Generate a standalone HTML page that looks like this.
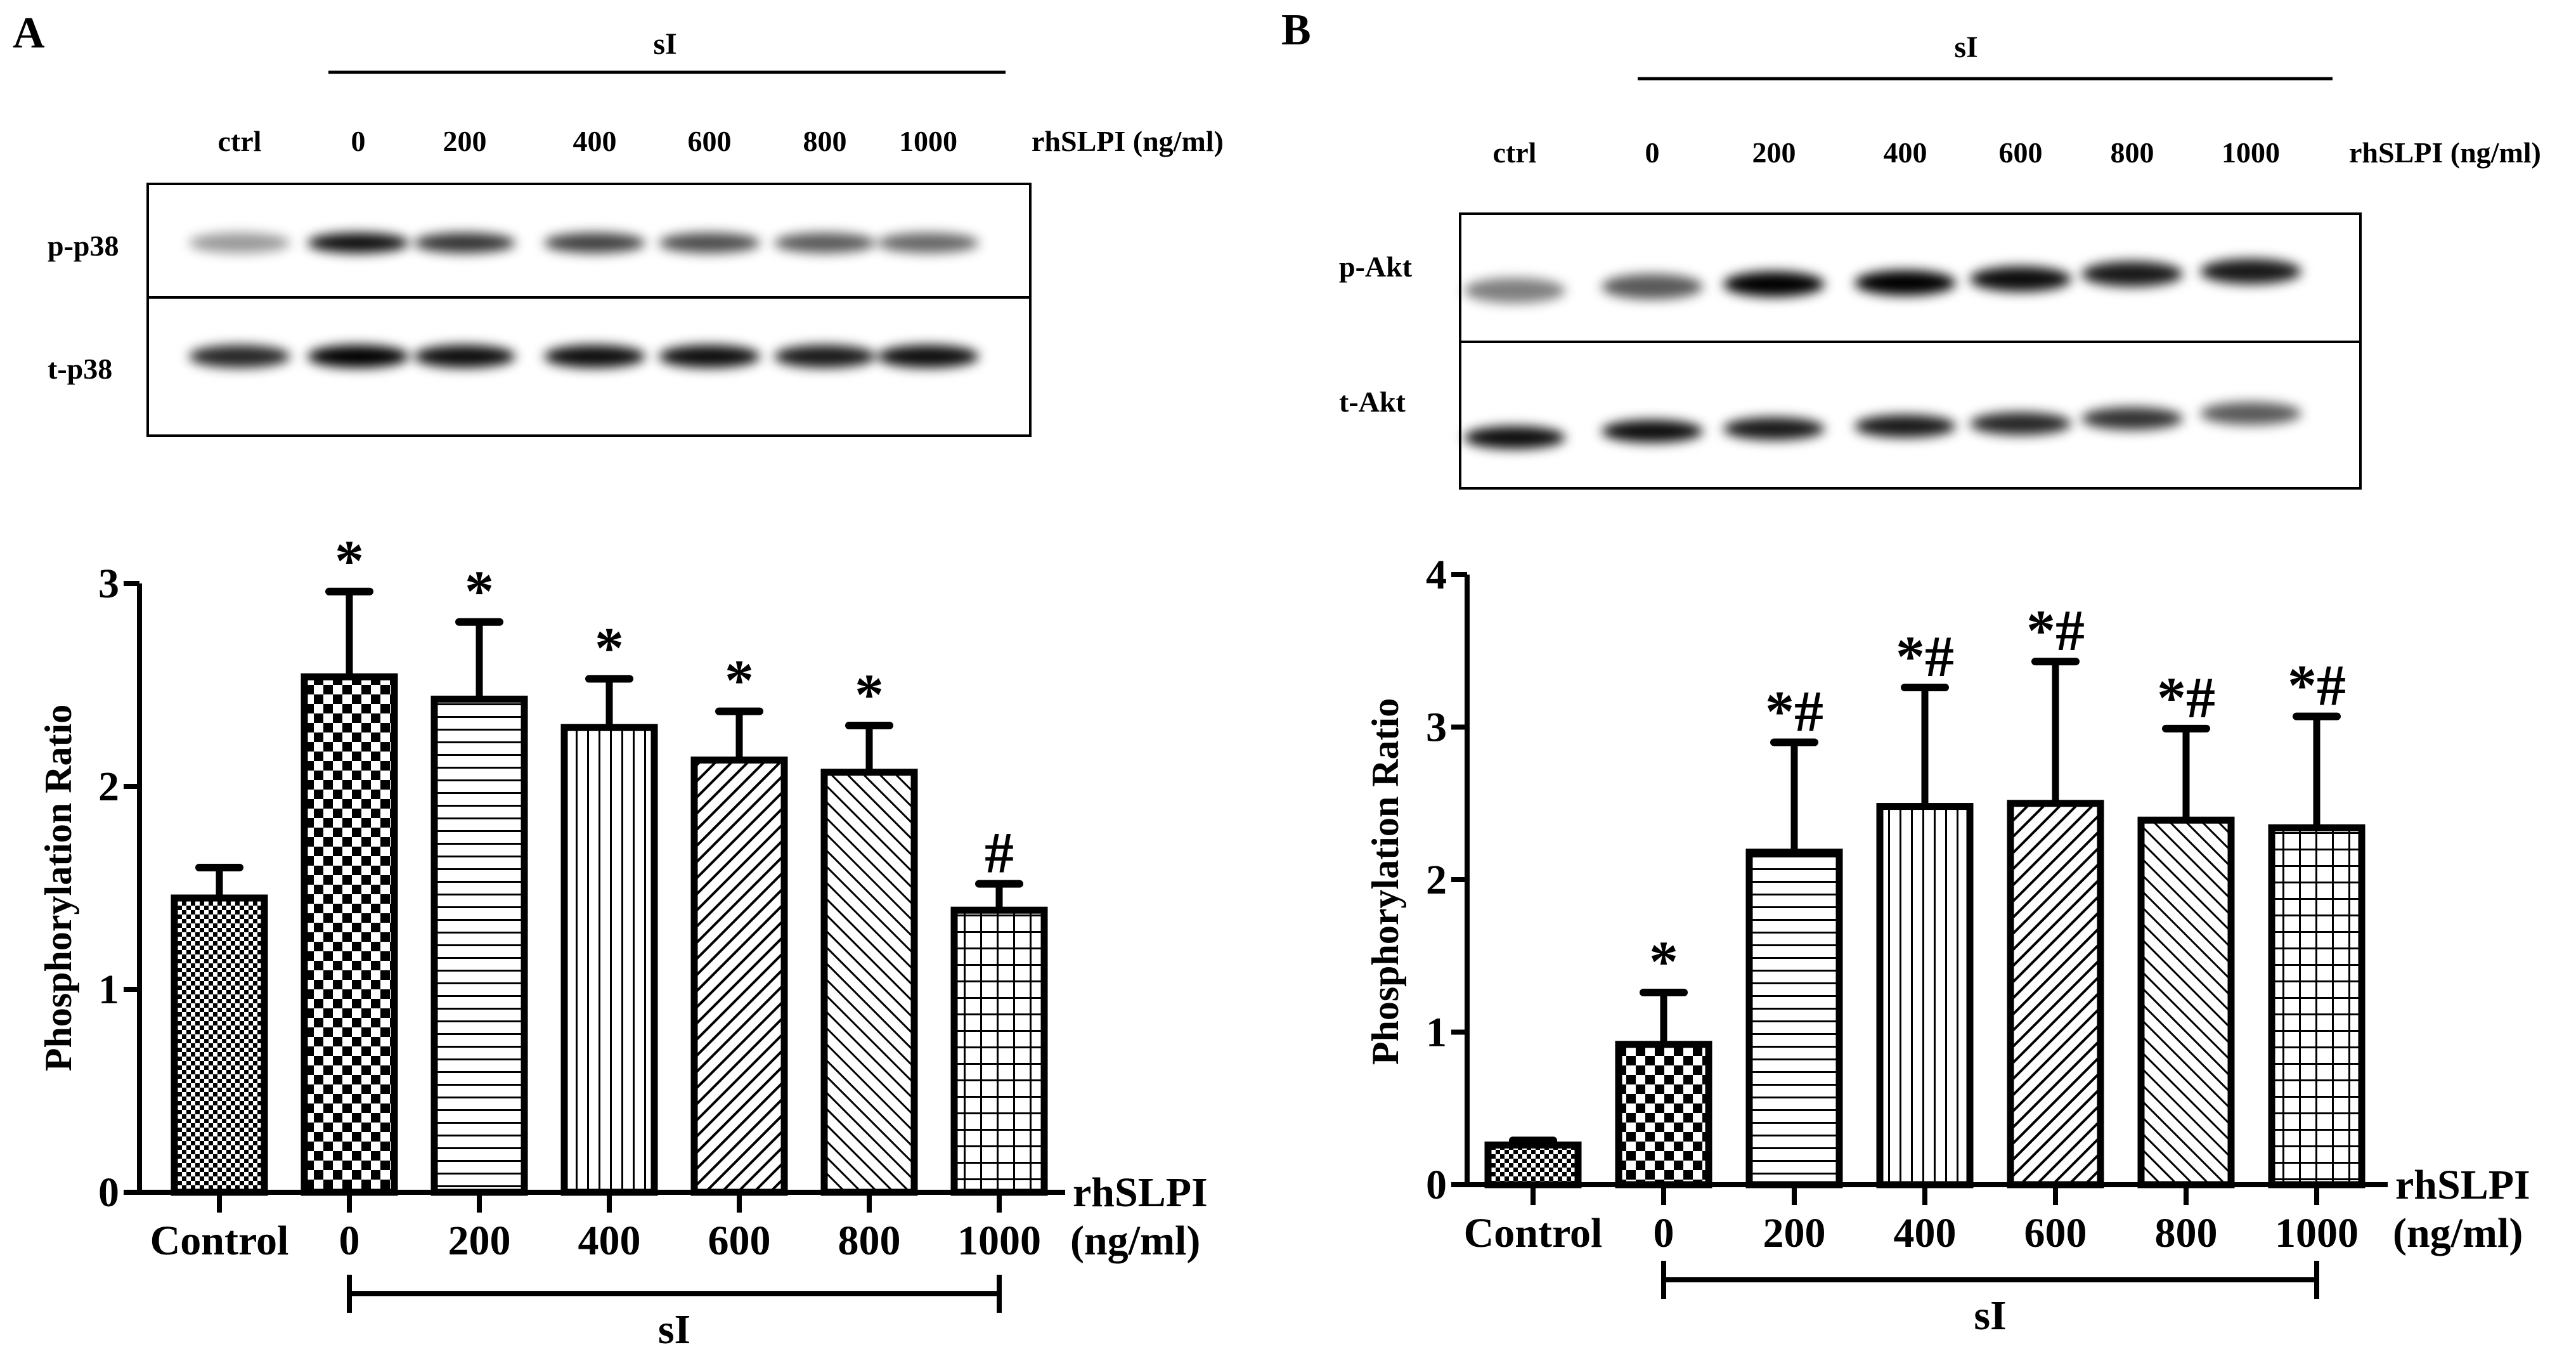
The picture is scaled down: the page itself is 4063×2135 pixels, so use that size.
<!DOCTYPE html>
<html><head><meta charset="utf-8"><style>
html,body{margin:0;padding:0;background:#fff}
svg{display:block}
text{font-family:"Liberation Serif",serif;font-weight:bold;fill:#000}
</style></head><body>
<svg id="fig" width="4063" height="2135" viewBox="0 0 4063 2135" xmlns="http://www.w3.org/2000/svg">
<defs>
<filter id="blur" x="-20%" y="-80%" width="140%" height="260%"><feGaussianBlur stdDeviation="9"/></filter>
<pattern id="p0" width="14" height="14" patternUnits="userSpaceOnUse"><rect width="14" height="14" fill="#fff"/><rect width="7" height="7" fill="#000"/><rect x="7" y="7" width="7" height="7" fill="#000"/></pattern>
<pattern id="p1" width="30" height="30" patternUnits="userSpaceOnUse"><rect width="30" height="30" fill="#fff"/><rect width="15" height="15" fill="#000"/><rect x="15" y="15" width="15" height="15" fill="#000"/></pattern>
<pattern id="p2" width="20" height="20" patternUnits="userSpaceOnUse"><rect width="20" height="20" fill="#fff"/><rect y="9" width="20" height="3" fill="#000"/></pattern>
<pattern id="p3" width="18" height="18" patternUnits="userSpaceOnUse"><rect width="18" height="18" fill="#fff"/><rect x="8" width="3" height="18" fill="#000"/></pattern>
<pattern id="p4" width="18" height="18" patternUnits="userSpaceOnUse" patternTransform="rotate(45)"><rect width="18" height="18" fill="#fff"/><rect x="8" width="4" height="18" fill="#000"/></pattern>
<pattern id="p5" width="18" height="18" patternUnits="userSpaceOnUse" patternTransform="rotate(-45)"><rect width="18" height="18" fill="#fff"/><rect x="8" width="3" height="18" fill="#000"/></pattern>
<pattern id="p6" width="26" height="26" patternUnits="userSpaceOnUse"><rect width="26" height="26" fill="#fff"/><rect x="12" width="3" height="26" fill="#000"/><rect y="12" width="26" height="3" fill="#000"/></pattern>
</defs>

<!-- Panel A blot -->
<text x="20" y="75" font-size="70">A</text>
<line x1="518" y1="114" x2="1586" y2="114" stroke="#000" stroke-width="5"/>
<text x="1049" y="85" font-size="48" text-anchor="middle">sI</text>
<g font-size="46" text-anchor="middle">
<text x="378" y="238">ctrl</text><text x="565" y="238">0</text><text x="733" y="238">200</text><text x="938" y="238">400</text><text x="1119" y="238">600</text><text x="1301" y="238">800</text><text x="1464" y="238">1000</text>
</g>
<text x="1627" y="238" font-size="46">rhSLPI (ng/ml)</text>
<rect x="233" y="290" width="1392" height="397" fill="#fff" stroke="#000" stroke-width="4"/>
<line x1="233" y1="469" x2="1625" y2="469" stroke="#000" stroke-width="4"/>
<text x="75" y="403" font-size="46">p-p38</text>
<text x="75" y="597" font-size="46">t-p38</text>
<g id="bandsA" filter="url(#blur)"></g>

<!-- Panel B blot -->
<text x="2021" y="70" font-size="70">B</text>
<line x1="2583" y1="124" x2="3679" y2="124" stroke="#000" stroke-width="5"/>
<text x="3101" y="90" font-size="48" text-anchor="middle">sI</text>
<g font-size="46" text-anchor="middle">
<text x="2389" y="256">ctrl</text><text x="2606" y="256">0</text><text x="2798" y="256">200</text><text x="3005" y="256">400</text><text x="3187" y="256">600</text><text x="3363" y="256">800</text><text x="3550" y="256">1000</text>
</g>
<text x="3705" y="256" font-size="46">rhSLPI (ng/ml)</text>
<rect x="2303" y="337" width="1420" height="433" fill="#fff" stroke="#000" stroke-width="4"/>
<line x1="2303" y1="539" x2="3723" y2="539" stroke="#000" stroke-width="4"/>
<text x="2112" y="436" font-size="46">p-Akt</text>
<text x="2112" y="649" font-size="46">t-Akt</text>
<g id="bandsB" filter="url(#blur)"></g>

<g id="chartA"></g>
<g id="chartB"></g>
</svg>
<script>
const categories = ["Control","0","200","400","600","800","1000"];
const valuesA = [1.45,2.54,2.43,2.29,2.13,2.07,1.39];
const errorsA = [1.60,2.96,2.81,2.53,2.37,2.30,1.52];
const marksA = ["","*","*","*","*","*","#"];
const ticksA = [0,1,2,3];
const valuesB = [0.26,0.92,2.18,2.48,2.50,2.39,2.34];
const errorsB = [0.29,1.26,2.90,3.26,3.43,2.99,3.07];
const marksB = ["","*","*#","*#","*#","*#","*#"];
const ticksB = [0,1,2,3,4];
const bandA1 = [0.4,0.95,0.8,0.75,0.7,0.65,0.6];
const bandA2 = [0.85,1,0.95,0.95,0.95,0.9,0.95];
const bandB1 = [0.5,0.65,1,1,0.95,0.9,0.9];
const bandB2 = [0.95,0.95,0.9,0.9,0.85,0.8,0.65];

const NS="http://www.w3.org/2000/svg";
function mk(parent,tag,attrs,txt){const e=document.createElementNS(NS,tag);for(const k in attrs)e.setAttribute(k,attrs[k]);if(txt!==undefined)e.textContent=txt;parent.appendChild(e);return e;}

function bands(g,lanes,vals,ys,h){
  vals.forEach((v,i)=>{
    const el=mk(g,'ellipse',{cx:lanes[i],cy:ys[i],rx:80,ry:h,fill:'#000','fill-opacity':v});
    
    
  });
}
const lanesA=[378,565,733,938,1119,1301,1464];
const lanesB=[2389,2606,2798,3005,3187,3363,3550];
bands(document.getElementById('bandsA'),lanesA,bandA1,[383,383,383,383,383,383,383],16);
bands(document.getElementById('bandsA'),lanesA,bandA2,[562,562,562,562,562,562,562],18);
bands(document.getElementById('bandsB'),lanesB,bandB1,[458,452,448,446,440,432,428],20);
bands(document.getElementById('bandsB'),lanesB,bandB2,[690,680,676,672,668,660,652],18);

function chart(gid,cfg){
  const g=document.getElementById(gid);
  const y=v=>cfg.y0-v*cfg.unit;
  const cx=i=>cfg.c0+i*cfg.pitch;
  const bw=142;
  cfg.values.forEach((v,i)=>{
    const eb=mk(g,'line',{x1:cx(i),x2:cx(i),y1:y(v),y2:y(cfg.errors[i]),stroke:'#000','stroke-width':11});
    
    
    const cap=mk(g,'line',{x1:cx(i)-32,x2:cx(i)+32,y1:y(cfg.errors[i]),y2:y(cfg.errors[i]),stroke:'#000','stroke-width':12,'stroke-linecap':'round'});
    
    
    const r=mk(g,'rect',{x:cx(i)-bw/2,y:y(v),width:bw,height:cfg.y0-y(v),fill:'url(#p'+i+')',stroke:'#000','stroke-width':11});
    
    
    if(cfg.marks[i]){
      const t=mk(g,'text',{x:cx(i),y:y(cfg.errors[i])-18,'font-size':92,'text-anchor':'middle','font-family':'Liberation Sans, sans-serif','font-weight':'normal'},cfg.marks[i]);
      
      
    }
    const tk=mk(g,'line',{x1:cx(i),x2:cx(i),y1:cfg.y0,y2:cfg.y0+32,stroke:'#000','stroke-width':8});
    
    
    const tl=mk(g,'text',{x:cx(i),y:cfg.y0+98,'font-size':66,'text-anchor':'middle'},categories[i]);
    
    
  });
  const top=y(cfg.ticks[cfg.ticks.length-1]);
  const ya=mk(g,'line',{x1:cfg.ax,x2:cfg.ax,y1:top,y2:cfg.y0,stroke:'#000','stroke-width':8});
  
  
  const xa=mk(g,'line',{x1:cfg.ax-25,x2:cfg.xend,y1:cfg.y0,y2:cfg.y0,stroke:'#000','stroke-width':8});
  
  
  cfg.ticks.forEach(t=>{
    const l=mk(g,'line',{x1:cfg.ax-25,x2:cfg.ax,y1:y(t),y2:y(t),stroke:'#000','stroke-width':8});
    
    
    const tx=mk(g,'text',{x:cfg.ax-32,y:y(t)+22,'font-size':66,'text-anchor':'end'},String(t));
    
    
  });
  const yl=mk(g,'text',{x:0,y:0,'font-size':60,'text-anchor':'middle',transform:'translate('+cfg.ylx+','+cfg.yly+') rotate(-90)'},'Phosphorylation Ratio');
  
  
  const u1=mk(g,'text',{x:cfg.xend+12,y:cfg.y0+22,'font-size':66},'rhSLPI');
  
  
  const u2=mk(g,'text',{x:cfg.xend+8,y:cfg.y0+98,'font-size':66},'(ng/ml)');
  
  
  const bx1=cx(1),bx2=cx(6),by=cfg.y0+cfg.brk;
  const br=mk(g,'path',{d:'M'+bx1+' '+(by-30)+'V'+(by+30)+'M'+bx1+' '+by+'H'+bx2+'M'+bx2+' '+(by-30)+'V'+(by+30),stroke:'#000','stroke-width':8,fill:'none'});
  
  
  const st=mk(g,'text',{x:(bx1+bx2)/2,y:by+78,'font-size':66,'text-anchor':'middle'},'sI');
  
  
}
chart('chartA',{values:valuesA,errors:errorsA,marks:marksA,ticks:ticksA,y0:1880,unit:320,c0:346,pitch:205,ax:220,xend:1680,ylx:112,yly:1400,brk:160});
chart('chartB',{values:valuesB,errors:errorsB,marks:marksB,ticks:ticksB,y0:1868,unit:240.5,c0:2418,pitch:206,ax:2314,xend:3766,ylx:2205,yly:1390,brk:150});
</script>
</body></html>
